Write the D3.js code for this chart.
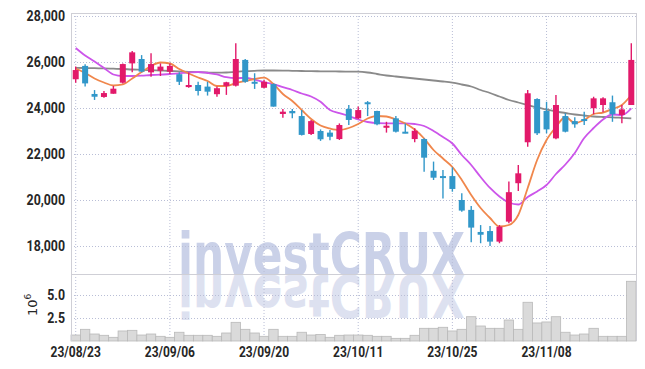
<!DOCTYPE html>
<html>
<head>
<meta charset="utf-8">
<script src="https://cdn.jsdelivr.net/npm/d3@7"></script>
<style>
  body { margin: 0; background: #fff; }
  text { font-family: Roboto, "Liberation Sans", sans-serif; fill: #262626; }
</style>
</head>
<body>
<div id="chart"></div>
<script>
// trading days, 23/08/23 .. 23/11/21
const dates = ["23/08/23","23/08/24","23/08/25","23/08/28","23/08/29","23/08/30","23/08/31","23/09/01","23/09/04","23/09/05",
  "23/09/06","23/09/07","23/09/08","23/09/11","23/09/12","23/09/13","23/09/14","23/09/15","23/09/18","23/09/19",
  "23/09/20","23/09/21","23/09/22","23/09/25","23/09/26","23/09/27","23/10/04","23/10/05","23/10/06","23/10/10",
  "23/10/11","23/10/12","23/10/13","23/10/16","23/10/17","23/10/18","23/10/19","23/10/20","23/10/23","23/10/24",
  "23/10/25","23/10/26","23/10/27","23/10/30","23/10/31","23/11/01","23/11/02","23/11/03","23/11/06","23/11/07",
  "23/11/08","23/11/09","23/11/10","23/11/13","23/11/14","23/11/15","23/11/16","23/11/17","23/11/20","23/11/21"];

const open = [25250,25830,24610,24480,24620,25100,25940,26130,25550,25620,25580,25470,24910,25000,24930,24600,24960,24970,26090,25140,
  24880,25040,23740,23870,23650,22870,23000,22930,22650,23960,23550,24250,23870,23140,23550,22970,22650,22650,21270,21040,
  21040,20000,19570,18610,18650,18190,19060,20730,22510,24390,23870,22680,23650,23430,23520,23990,24130,24250,23700,24130];
const high = [25800,25900,24780,24740,24960,25940,26480,26300,26380,25940,25940,25550,25540,25140,25140,24930,25140,26810,26130,25510,
  25220,25070,23960,23960,23910,23480,23070,23040,23330,24130,24060,24300,23880,23400,23650,23330,23120,22680,21670,21300,
  21420,20290,19740,18910,18870,18910,20800,21520,24780,24420,24270,24570,23770,23600,23840,24490,24470,24540,24130,26810];
const low = [25100,24930,24350,24450,24620,25070,25550,25550,25360,25390,25480,25000,24880,24540,24540,24490,24570,24930,25100,24830,
  24860,24060,23580,23550,22800,22830,22570,22600,22610,23260,23520,23650,23250,22930,22940,22900,22510,21230,20870,20070,
  20360,19490,18160,18120,18000,18120,18990,20390,22320,22830,22900,22640,22940,23140,23260,23730,23810,23400,23340,24130];
const close = [25650,25070,24490,24650,24840,25910,26420,25580,25910,25800,25830,25140,25000,24740,24710,24860,25120,26130,25140,25100,
  25140,24060,23840,23770,22830,23430,22640,22750,23260,23480,23910,24170,23290,23230,22970,22930,23010,21840,20970,20970,
  20480,19540,18800,18490,18190,18840,20340,21160,24640,22900,23070,24130,22970,23290,23480,24420,24420,23730,23940,26090];

const ma5 = [25717,25522,25283,25109,24978,25022,25283,25565,25826,25978,25935,25696,25500,25326,25174,24957,24957,25087,25174,25261,
  25317,25043,24609,24304,23913,23522,23239,23109,23043,23130,23304,23543,23652,23630,23500,23326,23065,22674,22174,21804,
  21435,20870,20217,19652,19217,18848,18913,19348,20522,21739,22609,23174,23609,23348,23478,23739,23804,23957,24130,24565];
const ma10 = [26609,26283,26022,25739,25457,25391,25391,25404,25435,25448,25478,25509,25543,25565,25522,25457,25339,25296,25313,25239,
  25117,25043,24904,24783,24630,24500,24270,23913,23774,23652,23500,23391,23339,23335,23335,23335,23304,23217,23000,22739,
  22457,21957,21522,21000,20522,20152,19891,19804,20130,20370,20652,21130,21543,22043,22696,23130,23500,23717,23696,23987];
const ma60 = [25748,25739,25730,25722,25709,25696,25674,25661,25643,25626,25609,25591,25574,25557,25543,25535,25543,25574,25600,25617,
  25630,25630,25626,25617,25609,25600,25596,25591,25587,25583,25578,25543,25478,25413,25370,25326,25283,25239,25196,25152,
  25100,25022,24935,24783,24652,24500,24348,24239,24130,24022,23935,23848,23783,23717,23674,23630,23609,23596,23574,23552];

// volume, millions of shares
const volume = [0.65,1.27,0.76,0.62,0.40,1.09,1.16,0.65,0.76,0.51,0.40,0.95,0.62,0.62,0.62,0.51,0.87,2.03,1.27,0.87,
  0.51,1.27,0.51,0.51,0.95,0.65,0.70,0.40,0.62,0.65,0.65,0.62,0.51,0.51,0.29,0.29,0.62,1.38,1.38,1.49,
  1.09,1.27,2.64,1.63,1.38,1.38,2.28,1.27,4.21,1.96,2.07,2.64,0.95,0.65,0.76,1.38,0.51,0.51,0.51,6.49];

const priceTicks = [18000, 20000, 22000, 24000, 26000, 28000];
const volumeTicks = [2.5, 5.0];
const dateTicks = ["23/08/23","23/09/06","23/09/20","23/10/11","23/10/25","23/11/08"];

const W = 645, H = 369;
const plotL = 71, plotR = 636, plotT = 13, plotSplit = 274, plotB = 341;
const UP = "#e2196a", DOWN = "#3197c9";

let svg = d3.select("#chart").append("svg").attr("width", W).attr("height", H);

let x = d3.scaleBand().domain(d3.range(dates.length)).range([plotL, plotR]);
let cx = i => x(i) + x.bandwidth() / 2;
let y = d3.scaleLinear().domain([18000, 28000]).range([246, 16]);
let yv = d3.scaleLinear().domain([0, 5]).range([plotB, 295]);

// squeeze a label so it looks like the narrow face of the original
function narrow(sel, k) {
    sel.each(function () {
        d3.select(this).attr("textLength", this.getComputedTextLength() * k)
            .attr("lengthAdjust", "spacingAndGlyphs");
    });
}

// watermark + reflection
function watermark(g, baseline, fill) {
    g.append("text").attr("x", 178).attr("y", baseline)
        .attr("textLength", 287).attr("lengthAdjust", "spacingAndGlyphs")
        .style("font-family", "'DejaVu Sans', sans-serif").style("font-weight", "bold")
        .style("font-size", "58px").style("fill", fill)
        .text("investCRUX");
}
watermark(svg.append("g"), 275, "#cad1e8");
let refl = svg.append("g").attr("transform", `translate(0, ${2 * 275}) scale(1,-1)`);
watermark(refl, 275, "#dde1f0");

// grid
let grid = svg.append("g").attr("stroke", "#b9bed6").attr("stroke-dasharray", "1,2");
grid.selectAll(".hp").data(priceTicks).join("line")
    .attr("x1", plotL).attr("x2", plotR).attr("y1", d => y(d) + 0.5).attr("y2", d => y(d) + 0.5);
grid.selectAll(".hv").data(volumeTicks).join("line")
    .attr("x1", plotL).attr("x2", plotR).attr("y1", d => yv(d) + 0.5).attr("y2", d => yv(d) + 0.5);
grid.selectAll(".vx").data(dateTicks).join("line")
    .attr("x1", d => cx(dates.indexOf(d))).attr("x2", d => cx(dates.indexOf(d)))
    .attr("y1", plotT).attr("y2", plotB);

// volume bars
svg.append("g").selectAll("rect").data(volume).join("rect")
    .attr("x", (d, i) => x(i)).attr("width", x.bandwidth())
    .attr("y", d => yv(d)).attr("height", d => plotB - yv(d))
    .attr("fill", "#dadada").attr("stroke", "#b9b9b9").attr("stroke-width", 0.8);

// moving averages
function maLine(values, color) {
    let line = d3.line().x((d, i) => cx(i)).y(d => y(d)).curve(d3.curveMonotoneX);
    svg.append("path").datum(values).attr("d", line)
        .attr("fill", "none").attr("stroke", color).attr("stroke-width", 1.8);
}
maLine(ma60, "#8a8a8a");
maLine(ma10, "#cc55ea");
maLine(ma5, "#f0874c");

// candles
let bodyW = 6;
let candles = svg.append("g").selectAll("g").data(dates).join("g")
    .attr("fill", (d, i) => close[i] >= open[i] ? UP : DOWN)
    .attr("stroke", (d, i) => close[i] >= open[i] ? UP : DOWN);
candles.append("line")
    .attr("x1", (d, i) => cx(i)).attr("x2", (d, i) => cx(i))
    .attr("y1", (d, i) => y(high[i])).attr("y2", (d, i) => y(low[i]))
    .attr("stroke-width", 1.4);
candles.append("rect")
    .attr("x", (d, i) => cx(i) - bodyW / 2).attr("width", bodyW)
    .attr("y", (d, i) => y(Math.max(open[i], close[i])))
    .attr("height", (d, i) => Math.max(2, Math.abs(y(open[i]) - y(close[i]))))
    .attr("stroke", "none");

// frame
let frame = svg.append("g").attr("stroke", "#cfcfd6").attr("fill", "none");
frame.append("line").attr("x1", plotL).attr("x2", plotR).attr("y1", plotT + 0.5).attr("y2", plotT + 0.5);
frame.append("line").attr("x1", plotL).attr("x2", plotR).attr("y1", plotSplit + 0.5).attr("y2", plotSplit + 0.5);
frame.append("line").attr("x1", plotL + 0.5).attr("x2", plotL + 0.5).attr("y1", plotT).attr("y2", plotB);
frame.append("line").attr("x1", plotR + 0.5).attr("x2", plotR + 0.5).attr("y1", plotT).attr("y2", plotB);

// labels
svg.append("g").selectAll("text").data(priceTicks).join("text")
    .attr("x", 65).attr("y", d => y(d) + 5).attr("text-anchor", "end")
    .style("font-size", "14px").style("font-weight", "bold").text(d => d3.format(",")(d))
    .call(narrow, 0.88);
svg.append("g").selectAll("text").data(volumeTicks).join("text")
    .attr("x", 65).attr("y", d => yv(d) + 5).attr("text-anchor", "end")
    .style("font-size", "14px").style("font-weight", "bold").text(d => d3.format(".1f")(d))
    .call(narrow, 0.88);
svg.append("g").selectAll("text").data(dateTicks).join("text")
    .attr("x", d => cx(dates.indexOf(d))).attr("y", 357).attr("text-anchor", "middle")
    .style("font-size", "15px").style("font-weight", "bold").text(d => d)
    .call(narrow, 0.8);

let unit = svg.append("text").attr("transform", "translate(37,316) rotate(-90)")
    .style("font-family", "'DejaVu Sans', sans-serif").style("font-size", "13px");
unit.append("tspan").text("10");
unit.append("tspan").attr("dy", -6).style("font-size", "9px").text("6");
</script>
</body>
</html>
